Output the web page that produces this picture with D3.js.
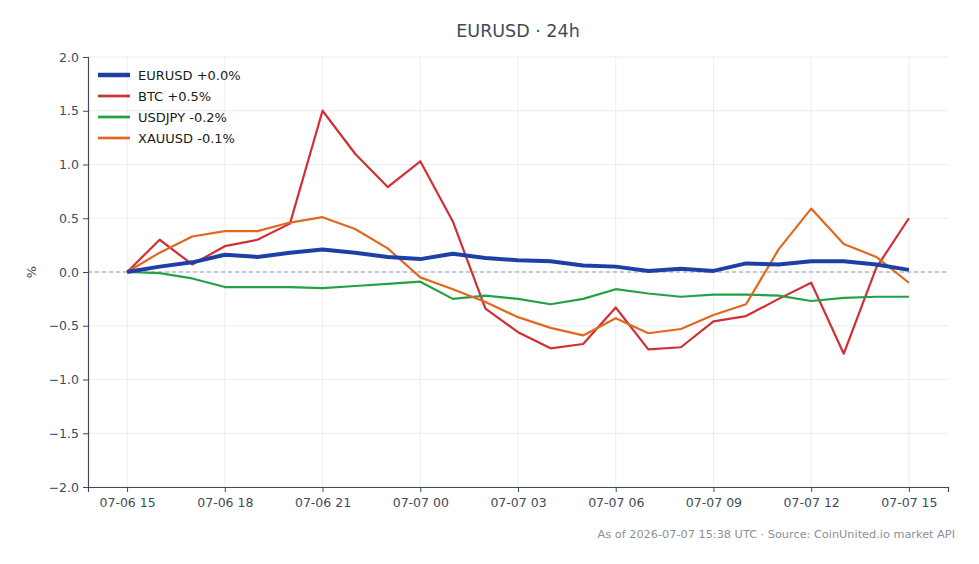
<!DOCTYPE html>
<html>
<head>
<meta charset="utf-8">
<script src="https://cdn.jsdelivr.net/npm/d3@7"></script>
<style>
  body { margin: 0; background: #fff; }
  svg { display: block; font-family: "DejaVu Sans", sans-serif; }
</style>
</head>
<body>
<svg id="viz"></svg>
<script>
/* Data */

const startTime = new Date(2026, 6, 6, 15);
const hours = d3.range(25).map(i => d3.timeHour.offset(startTime, i));

const eurusd = [0, 0.05, 0.09, 0.16, 0.14, 0.18, 0.21, 0.18, 0.14, 0.12, 0.17, 0.13, 0.11,
  0.10, 0.06, 0.05, 0.01, 0.03, 0.01, 0.08, 0.07, 0.10, 0.10, 0.07, 0.02];
const btc = [0, 0.30, 0.07, 0.24, 0.30, 0.45, 1.50, 1.10, 0.79, 1.03, 0.47, -0.34, -0.56,
  -0.71, -0.67, -0.33, -0.72, -0.70, -0.46, -0.41, -0.25, -0.10, -0.76, 0.04, 0.50];
const usdjpy = [0, -0.01, -0.06, -0.14, -0.14, -0.14, -0.15, -0.13, -0.11, -0.09, -0.25, -0.22, -0.25,
  -0.30, -0.25, -0.16, -0.20, -0.23, -0.21, -0.21, -0.22, -0.27, -0.24, -0.23, -0.23];
const xauusd = [0, 0.18, 0.33, 0.38, 0.38, 0.46, 0.51, 0.40, 0.22, -0.05, -0.16, -0.28, -0.42,
  -0.52, -0.59, -0.43, -0.57, -0.53, -0.40, -0.30, 0.21, 0.59, 0.26, 0.14, -0.10];

const seriesNames = ["EURUSD +0.0%", "BTC +0.5%", "USDJPY -0.2%", "XAUUSD -0.1%"];
const seriesValues = [eurusd, btc, usdjpy, xauusd];
const seriesColors = ["#1e3fa6", "#cf3035", "#24a147", "#e1681e"];
const seriesWidths = [4, 2.2, 2.2, 2.2];

const yTicks = [-2.0, -1.5, -1.0, -0.5, 0.0, 0.5, 1.0, 1.5, 2.0];

/* Environment */

const width = 979;
const height = 564;
const margin = {top: 57, right: 31, bottom: 77, left: 88};

const svg = d3.select('#viz')
    .attr('width', width)
    .attr('height', height);

/* Scales */

const pad = 1.2 * 3600e3;
const x = d3.scaleTime()
    .domain([new Date(+hours[0] - pad), new Date(+hours[24] + pad)])
    .range([margin.left, width - margin.right]);

const y = d3.scaleLinear()
    .domain([-2, 2])
    .range([height - margin.bottom, margin.top]);

const xTicks = hours.filter((d, i) => i % 3 === 0);

/* Grid */

const gGrid = svg.append("g");

gGrid.selectAll("line.h")
  .data(yTicks)
  .enter().append("line")
    .attr("x1", margin.left).attr("x2", width - margin.right)
    .attr("y1", d => y(d)).attr("y2", d => y(d))
    .attr("stroke", "#e6e9ee").attr("stroke-width", 0.8);

gGrid.selectAll("line.v")
  .data(xTicks)
  .enter().append("line")
    .attr("x1", d => x(d)).attr("x2", d => x(d))
    .attr("y1", margin.top).attr("y2", height - margin.bottom)
    .attr("stroke", "#e6e9ee").attr("stroke-width", 0.8);

// zero reference
svg.append("line")
    .attr("x1", margin.left).attr("x2", width - margin.right)
    .attr("y1", y(0)).attr("y2", y(0))
    .attr("stroke", "#8e9db3")
    .attr("stroke-width", 1)
    .attr("stroke-dasharray", "4,3");

/* Axis */

const axisColor = "#3f4b5c";

const gXAxis = svg.append("g")
    .attr("transform", `translate(0,${height - margin.bottom})`)
    .call(d3.axisBottom(x).tickValues(xTicks).tickFormat(d3.timeFormat("%m-%d %H")).tickSizeOuter(0).tickSize(5).tickPadding(6));

const gYAxis = svg.append("g")
    .attr("transform", `translate(${margin.left},0)`)
    .call(d3.axisLeft(y).tickValues(yTicks).tickFormat(d3.format(".1f")).tickSizeOuter(0).tickSize(5).tickPadding(4));

[gXAxis, gYAxis].forEach(g => {
  g.selectAll(".domain").attr("stroke", axisColor).attr("stroke-width", 1.2);
  g.selectAll(".tick line").attr("stroke", axisColor);
  g.selectAll(".tick text").attr("fill", axisColor).attr("font-size", 12.5)
      .attr("font-family", "DejaVu Sans, sans-serif");
});
gYAxis.selectAll(".tick text").text(d => d3.format(".1f")(d).replace("-", "\u2212"));

svg.append("text")
    .attr("transform", `translate(31,${y(0)}) rotate(-90)`)
    .attr("text-anchor", "middle")
    .attr("dy", "0.35em")
    .attr("fill", axisColor)
    .attr("font-size", 13)
    .text("%");

/* Lines */

const line = d3.line()
    .x((d, i) => x(hours[i]))
    .y(d => y(d));

const order = [1, 2, 3, 0];
svg.append("g")
  .selectAll("path")
  .data(order)
  .enter().append("path")
    .attr("fill", "none")
    .attr("stroke", i => seriesColors[i])
    .attr("stroke-width", i => seriesWidths[i])
    .attr("stroke-linejoin", "round")
    .attr("d", i => line(seriesValues[i]));

/* Legend */

const gLegend = svg.append("g")
    .attr("transform", `translate(98,75)`)
  .selectAll("g")
  .data(seriesNames)
  .enter().append("g")
    .attr("transform", (d, i) => `translate(0,${i * 21})`);

gLegend.append("line")
    .attr("x1", 0).attr("x2", 32)
    .attr("stroke", (d, i) => seriesColors[i])
    .attr("stroke-width", (d, i) => seriesWidths[i] + 0.5);

gLegend.append("text")
    .attr("x", 40)
    .attr("dy", "0.35em")
    .attr("font-size", 13)
    .attr("fill", "#1a1a1a")
    .text(d => d);

/* Title & footnote */

svg.append("text")
    .attr("x", (margin.left + width - margin.right) / 2)
    .attr("y", 37)
    .attr("text-anchor", "middle")
    .attr("font-size", 17.5)
    .attr("fill", "#3f4b5c")
    .text("EURUSD · 24h");

svg.append("text")
    .attr("x", 955)
    .attr("y", 538)
    .attr("text-anchor", "end")
    .attr("font-size", 11.3)
    .attr("fill", "#8a909a")
    .text("As of 2026-07-07 15:38 UTC · Source: CoinUnited.io market API");
</script>
</body>
</html>
